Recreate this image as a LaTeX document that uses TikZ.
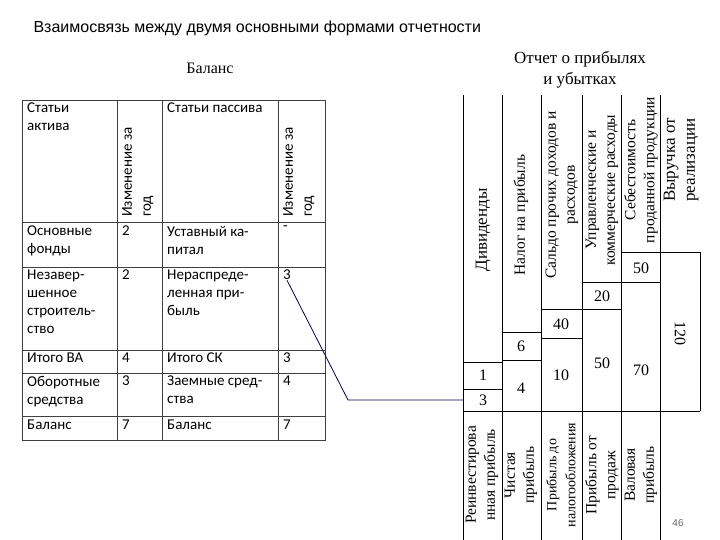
\documentclass[tikz,border=0pt]{standalone}
\usepackage{fontspec}
\setmainfont{Liberation Serif}
\newfontfamily\sansf{Liberation Sans}
\newfontfamily\calf{Carlito}
\begin{document}
\begin{tikzpicture}[x=1pt,y=-1pt,
  tl/.style={anchor=north west,font=\calf\fontsize{15}{18}\selectfont,align=left,inner sep=0pt},
  rt/.style={rotate=90,font=\fontsize{15.5}{19}\selectfont,align=center,inner sep=0pt},
  bt/.style={rt,font=\fontsize{15.5}{19}\selectfont},
  vt/.style={font=\fontsize{16}{18}\selectfont,inner sep=0pt},
  grid/.style={draw=black!75,line width=0.6pt},
  ln/.style={line width=0.9pt}]
\useasboundingbox (0,0) rectangle (720,540);
\node[anchor=west,font=\sansf\fontsize{16}{19}\selectfont] (title) at (30,28) {Взаимосвязь между двумя основными формами отчетности};
\node[font=\fontsize{16}{19}\selectfont] (bal) at (210,68) {Баланс};
\node[font=\fontsize{17}{21}\selectfont,align=center] (opu) at (580,70) {Отчет о прибылях\\и убытках};
% table
\draw[grid] (22,100) rectangle (325,440);
\foreach \x in {117,162,278} \draw[grid] (\x,100) -- (\x,440);
\foreach \y in {222,267,350,373,416} \draw[grid] (22,\y) -- (325,\y);
\node[tl] (a1) at (27,103) {Статьи\\актива};
\node[tl] (p1) at (167,103) {Статьи пассива};
\node[rotate=90,anchor=north west,font=\calf\fontsize{15}{19}\selectfont,align=left,inner sep=0pt] (c1) at (122,217) {Изменение за\\год};
\node[rotate=90,anchor=north west,font=\calf\fontsize{15}{19}\selectfont,align=left,inner sep=0pt] (c2) at (283,217) {Изменение за\\год};
\node[tl] (r1a) at (27,226) {Основные\\фонды};
\node[tl] (r1b) at (122,226) {2};
\node[tl] (r1c) at (167,226) {Уставный ка-\\питал};
\node[tl] (r1d) at (283,226) {-};
\node[tl] (r2a) at (27,270) {Незавер-\\шенное\\строитель-\\ство};
\node[tl] (r2b) at (122,270) {2};
\node[tl] (r2c) at (167,270) {Нераспреде-\\ленная при-\\быль};
\node[tl] (r2d) at (283,270) {3};
\node[tl] (r3a) at (27,353) {Итого ВА};
\node[tl] (r3b) at (122,353) {4};
\node[tl] (r3c) at (167,353) {Итого СК};
\node[tl] (r3d) at (283,353) {3};
\node[tl] (r4a) at (27,376) {Оборотные\\средства};
\node[tl] (r4b) at (122,376) {3};
\node[tl] (r4c) at (167,376) {Заемные сред-\\ства};
\node[tl] (r4d) at (283,376) {4};
\node[tl] (r5a) at (27,420) {Баланс};
\node[tl] (r5b) at (122,420) {7};
\node[tl] (r5c) at (167,420) {Баланс};
\node[tl] (r5d) at (283,420) {7};
% right chart
\foreach \x in {463,502,541,582,621,660} \draw[ln] (\x,95) -- (\x,540);
\draw[ln] (660,252) -- (700,252) -- (700,411);
\draw[ln] (463,411) -- (700,411);
\draw[ln] (463,362) -- (502,362);
\draw[ln] (463,389) -- (502,389);
\draw[ln] (502,332) -- (541,332);
\draw[ln] (502,360) -- (541,360);
\draw[ln] (541,309) -- (582,309);
\draw[ln] (541,338) -- (582,338);
\draw[ln] (582,282) -- (621,282);
\draw[ln] (582,309) -- (621,309);
\draw[ln] (621,252) -- (660,252);
\draw[ln] (621,282) -- (660,282);
% headers
\node[rt,font=\fontsize{17}{20}\selectfont] (h1) at (483,230) {Дивиденды};
\node[rt] (h2) at (521,215) {Налог на прибыль};
\node[rt] (h3) at (562,195) {Сальдо прочих доходов и\\расходов};
\node[rt] (h4) at (602,190) {Управленческие и\\коммерческие расходы};
\node[rt] (h5) at (641,170) {Себестоимость\\проданной продукции};
\node[rt,font=\fontsize{17}{20}\selectfont] (h6) at (681,160) {Выручка от\\реализации};
% values
\node[vt] (v1) at (483,375) {1};
\node[vt] (v2) at (483,400) {3};
\node[vt] (v3) at (521,346) {6};
\node[vt] (v4) at (521,388) {4};
\node[vt] (v5) at (561,324) {40};
\node[vt] (v6) at (561,375) {10};
\node[vt] (v7) at (602,296) {20};
\node[vt] (v8) at (602,363) {50};
\node[vt] (v9) at (641,268) {50};
\node[vt] (v10) at (641,370) {70};
\node[vt,rotate=-90] (v11) at (680,333) {120};
% bottom labels
\node[bt] (b1) at (482,475) {Реинвестирова\\нная прибыль};
\node[bt] (b2) at (521,475) {Чистая\\прибыль};
\node[rt,font=\fontsize{14}{19}\selectfont] (b3) at (561,475) {Прибыль до\\налогообложения};
\node[bt] (b4) at (602,475) {Прибыль от\\продаж};
\node[bt] (b5) at (641,475) {Валовая\\прибыль};
\node[font=\sansf\fontsize{10}{12}\selectfont,text=black!60] (pg) at (678,523) {46};
% connector
\coordinate (k1) at (348,400);
\coordinate (k2) at (463,400);
\draw[draw=blue!30!black,line width=0.8pt] (r2d.south) -- (k1) -- (k2);
\end{tikzpicture}
\end{document}
